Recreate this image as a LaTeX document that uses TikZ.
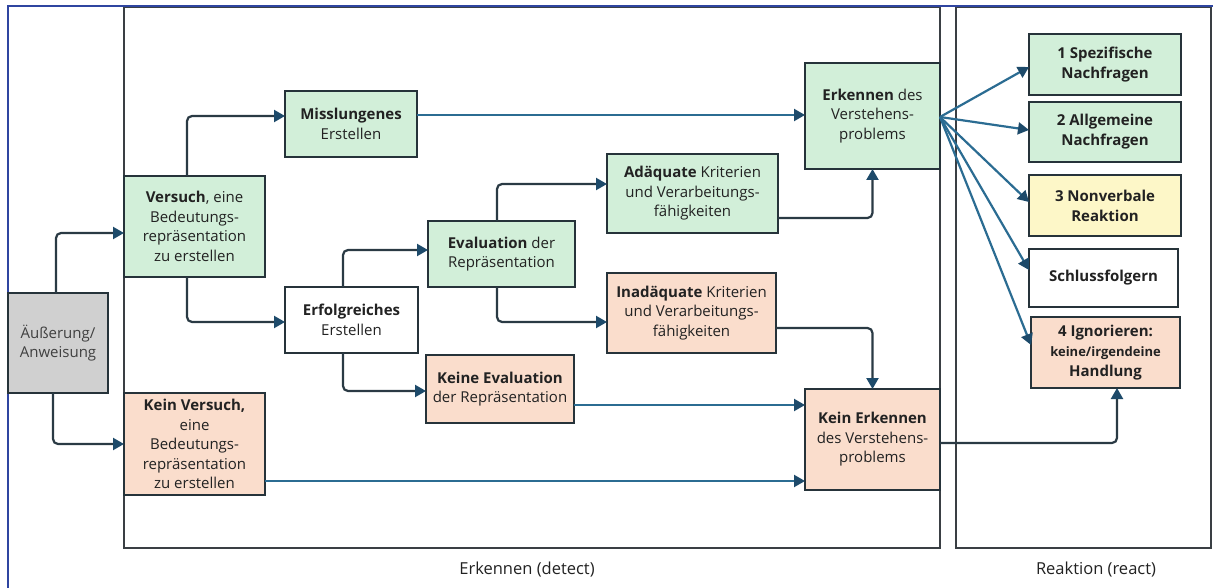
\documentclass[tikz,border=0pt]{standalone}
\usepackage{fontspec}
\setmainfont{Open Sans}
\usetikzlibrary{arrows.meta}
\definecolor{gfill}{HTML}{D2EFD9}
\definecolor{pfill}{HTML}{FADDCC}
\definecolor{yfill}{HTML}{FDF7C8}
\definecolor{grfill}{HTML}{D0D0D0}
\definecolor{boxline}{HTML}{26333A}
\definecolor{txt}{HTML}{222222}
\definecolor{connd}{HTML}{2A3A44}
\definecolor{headc}{HTML}{1D4A6A}
\definecolor{connt}{HTML}{2B6C92}
\definecolor{framec}{HTML}{3A3F44}
\definecolor{outerblue}{HTML}{2F45A0}
\begin{document}
\begin{tikzpicture}[x=1pt,y=-1pt,
  box/.style={draw=boxline, line width=2.2pt, align=center, text=txt,
    font=\fontsize{15}{19.5}\selectfont, inner sep=1pt, outer sep=0pt},
  gbox/.style={box, fill=gfill},
  pbox/.style={box, fill=pfill},
  ybox/.style={box, fill=yfill},
  wbox/.style={box, fill=white},
  rbox/.style={font=\fontsize{15}{20}\selectfont\bfseries},
  conn/.style={draw=connd, line width=2.2pt, rounded corners=5pt,
    -{Triangle[length=11pt,width=12pt,color=headc]}},
  tconn/.style={draw=connt, line width=2.2pt,
    -{Triangle[length=11pt,width=12pt,color=headc]}},
  frame/.style={draw=framec, line width=2pt},
  lab/.style={text=txt, font=\fontsize{16.5}{18}\selectfont}
]
\useasboundingbox (0,0) rectangle (1213,588);
\fill[white] (0,0) rectangle (1213,588);
% frames
\draw[frame] (124,7) rectangle (940,548);
\draw[frame] (956,7) rectangle (1211,548);
\draw[outerblue, line width=1.8pt] (8,588) -- (8,6) -- (1213,6);
\node[lab] (labdetect) at (527,570) {Erkennen (detect)};
\node[lab] (labreact) at (1096,570) {Reaktion (react)};

% nodes
\node[box, fill=grfill, text=black!75, minimum width=100pt, minimum height=100pt] (aeu) at (58,343) {Äußerung/\\Anweisung};
\node[gbox, minimum width=141pt, minimum height=101pt] (versuch) at (194.5,226.5) {\textbf{Versuch}, eine\\Bedeutungs-\\repräsentation\\zu erstellen};
\node[pbox, minimum width=141pt, minimum height=102pt] (kv) at (194.5,444) {\textbf{Kein Versuch,}\\eine\\Bedeutungs-\\repräsentation\\zu erstellen};
\node[gbox, minimum width=132pt, minimum height=66pt] (miss) at (351,124) {\textbf{Misslungenes}\\Erstellen};
\node[wbox, minimum width=133pt, minimum height=66pt] (erf) at (351.5,320) {\textbf{Erfolgreiches}\\Erstellen};
\node[gbox, minimum width=147pt, minimum height=66pt] (eval) at (501.5,254) {\textbf{Evaluation} der\\Repräsentation};
\node[pbox, minimum width=148pt, minimum height=68pt] (ke) at (500,389) {\textbf{Keine Evaluation}\\der Repräsentation};
\node[gbox, minimum width=171pt, minimum height=79pt] (adq) at (692.5,193.5) {\textbf{Adäquate} Kriterien\\und Verarbeitungs-\\fähigkeiten};
\node[pbox, minimum width=169pt, minimum height=80pt] (inad) at (691.5,313) {\textbf{Inadäquate} Kriterien\\und Verarbeitungs-\\fähigkeiten};
\node[gbox, minimum width=135pt, minimum height=106pt] (erk) at (872.5,116) {\textbf{Erkennen} des\\Verstehens-\\problems};
\node[pbox, minimum width=135pt, minimum height=101pt] (kerk) at (872.5,439.5) {\textbf{Kein Erkennen}\\des Verstehens-\\problems};

\node[gbox, rbox, minimum width=152pt, minimum height=61pt] (r1) at (1105,64.5) {1 Spezifische\\Nachfragen};
\node[gbox, rbox, minimum width=152pt, minimum height=60pt] (r2) at (1105,132) {2 Allgemeine\\Nachfragen};
\node[ybox, rbox, minimum width=152pt, minimum height=61pt] (r3) at (1105,205.5) {3 Nonverbale\\Reaktion};
\node[wbox, rbox, minimum width=149pt, minimum height=58pt] (r4) at (1103.5,278) {Schlussfolgern};
\node[pbox, rbox, minimum width=149pt, minimum height=71pt] (r5) at (1105.5,352.5) {4 Ignorieren:\\{\fontsize{13}{19}\selectfont keine/irgendeine}\\Handlung};

% elbow connectors
\draw[conn] (aeu.north -| 56,0) |- (versuch.west |- 0,233);
\draw[conn] (aeu.south -| 53,0) |- (kv.west);
\draw[conn] (versuch.north -| 187,0) |- (miss.west |- 0,116);
\draw[conn] (versuch.south -| 187,0) |- (erf.west |- 0,322);
\draw[conn] (erf.north -| 343,0) |- (eval.west |- 0,250);
\draw[conn] (erf.south -| 343,0) |- (ke.west |- 0,391);
\draw[conn] (eval.north -| 497,0) |- (adq.west |- 0,184);
\draw[conn] (eval.south -| 497,0) |- (inad.west |- 0,322);
\draw[conn] (adq.east |- 0,218) -| (erk.south);
\draw[conn] (inad.east |- 0,328) -| (kerk.north);
\draw[conn] (kerk.east |- 0,443) -| (r5.south -| 1117,0);

% straight connectors
\draw[tconn] (miss.east |- 0,115) -- (erk.west |- 0,115);
\draw[tconn] (ke.east |- 0,405) -- (kerk.west |- 0,405);
\draw[tconn] (kv.east |- 0,481) -- (kerk.west |- 0,481);

% fan
\coordinate (fan) at (erk.east |- 0,117);
\draw[tconn] (fan) -- (r1.west |- 0,67);
\draw[tconn] (fan) -- (r2.west |- 0,130);
\draw[tconn] (fan) -- (r3.west |- 0,202);
\draw[tconn] (fan) -- (r4.west |- 0,270);
\draw[tconn] (fan) -- (r5.west |- 0,345);
\end{tikzpicture}
\end{document}
